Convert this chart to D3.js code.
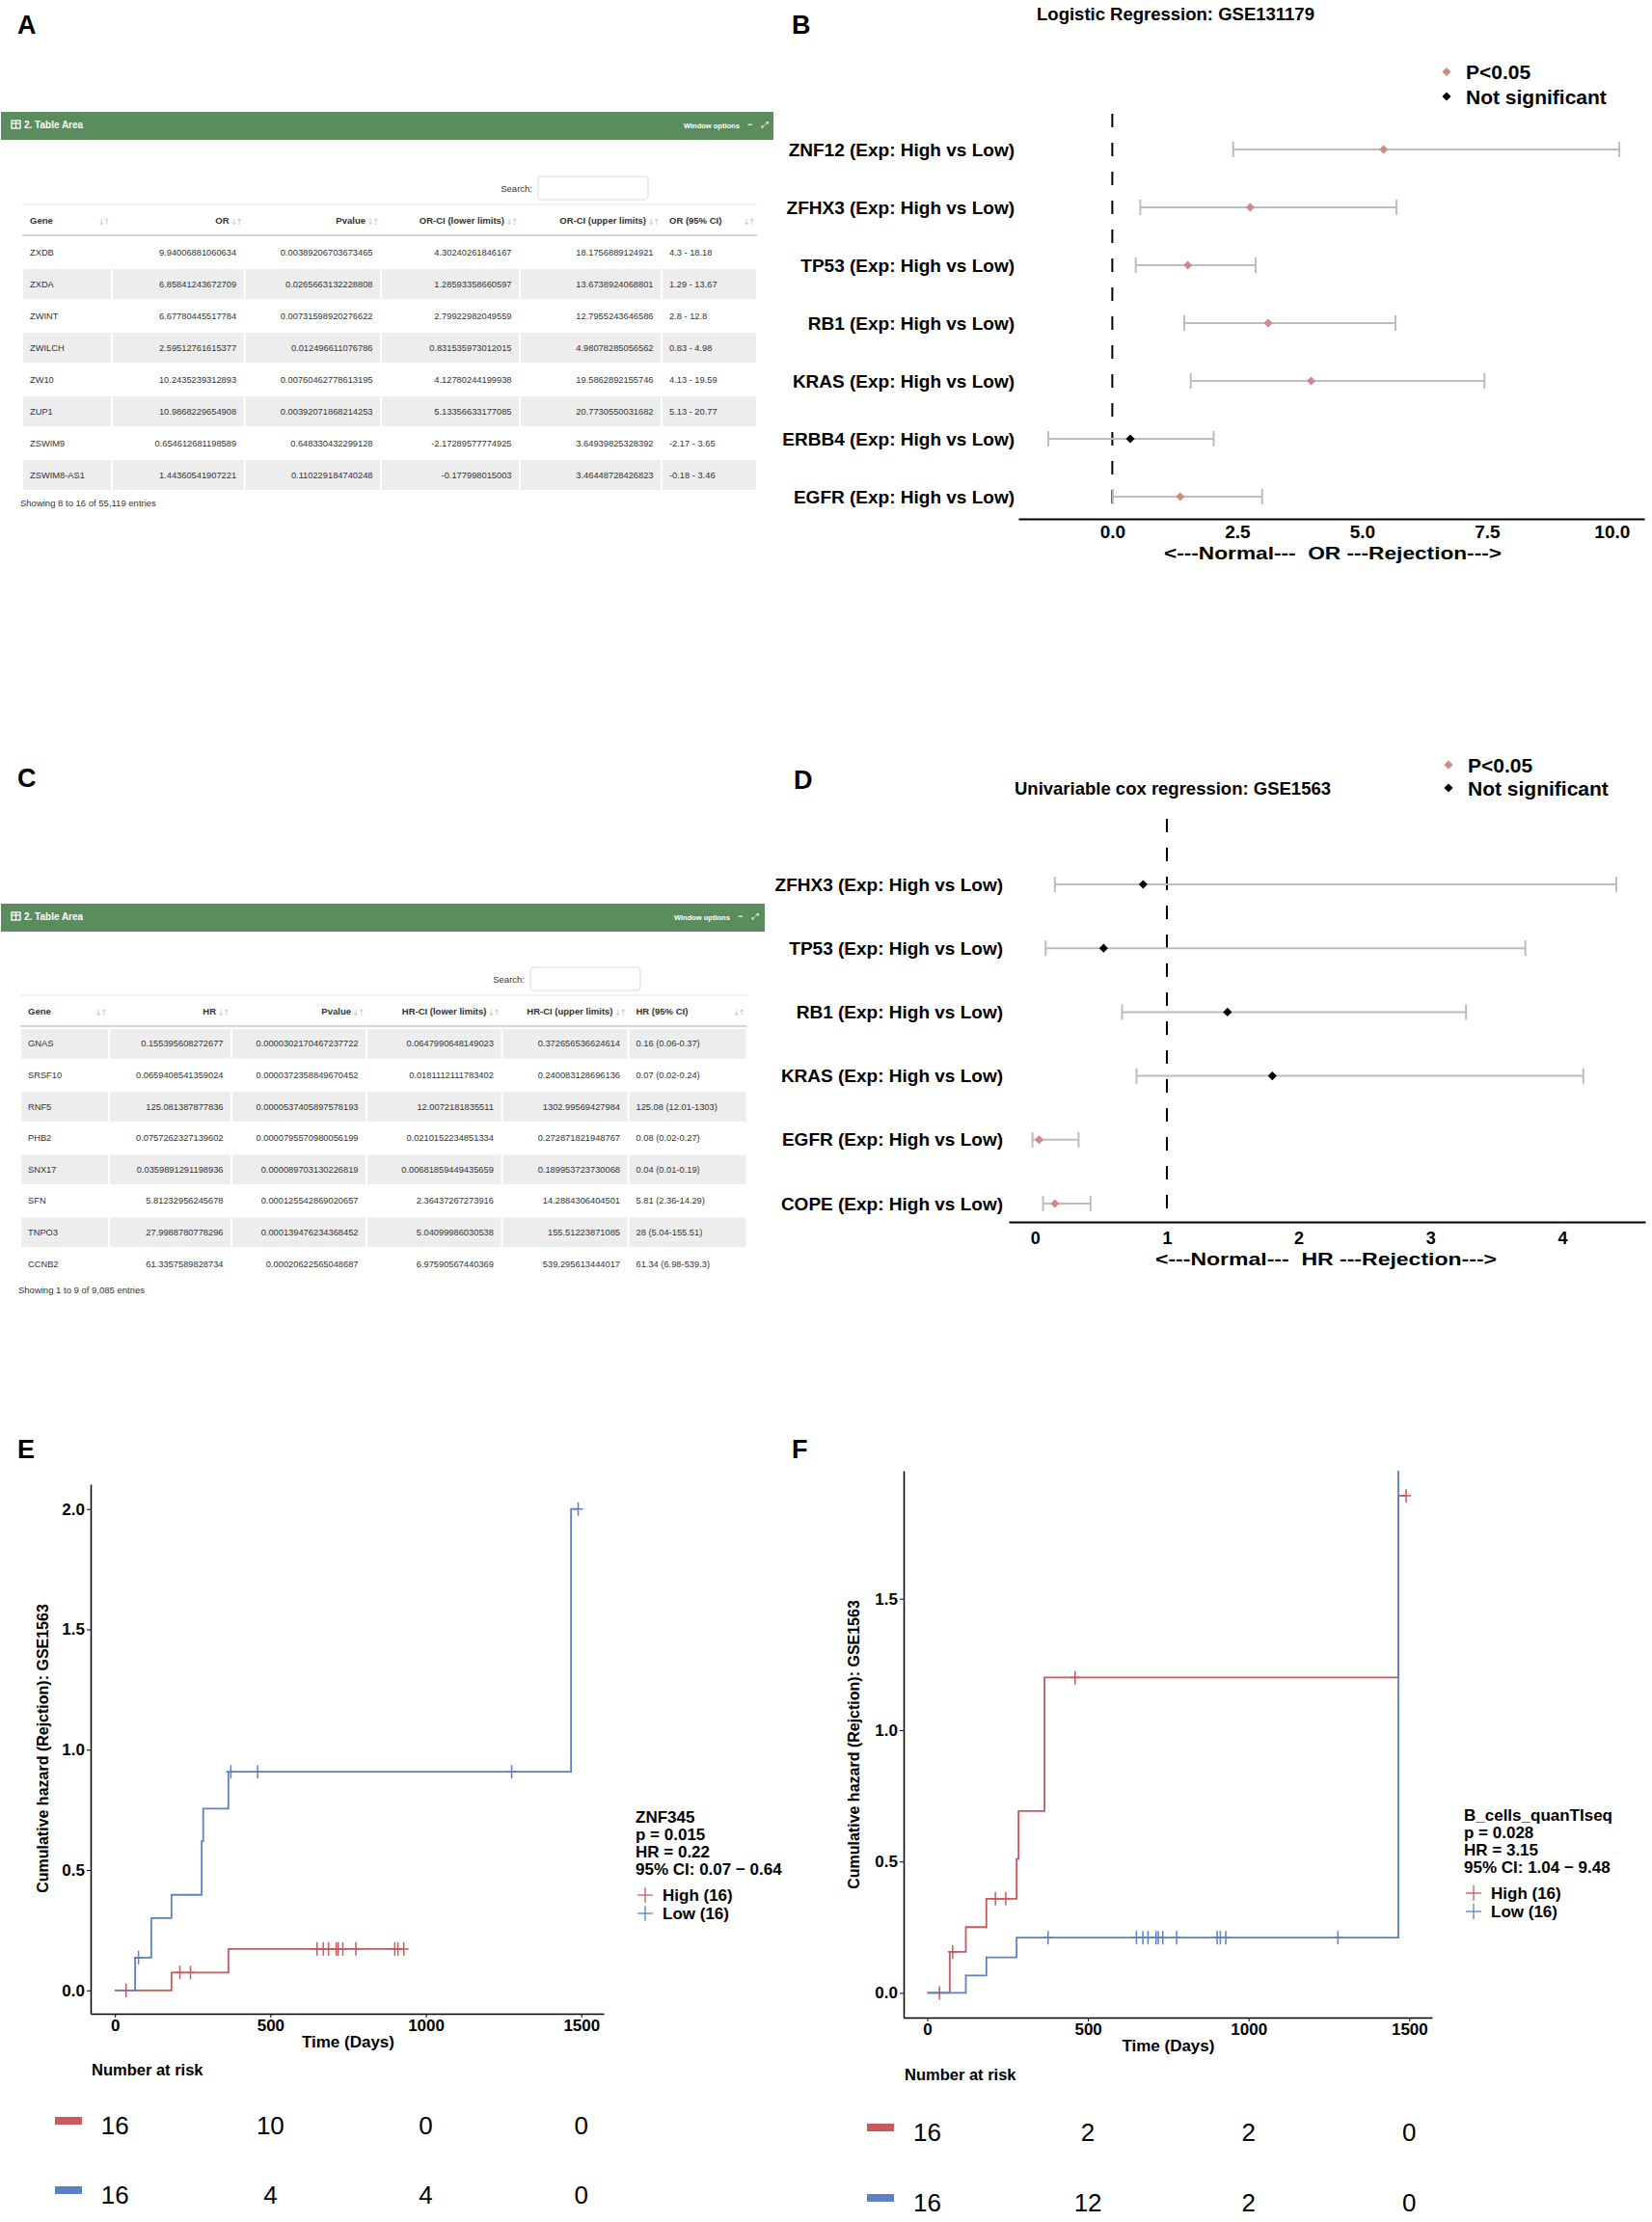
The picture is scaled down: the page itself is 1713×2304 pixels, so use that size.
<!DOCTYPE html>
<html>
<head>
<meta charset="utf-8">
<script src="https://cdn.jsdelivr.net/npm/d3@7"></script>
<style>
  body { margin: 0; background: #fff; }
  svg { display: block; font-family: "Liberation Sans", Arial, sans-serif; }
</style>
</head>
<body>
<script>
// ---------- table A (logistic regression screenshot) ----------
var tableAHead = ["Gene", "OR", "Pvalue", "OR-CI (lower limits)", "OR-CI (upper limits)", "OR (95% CI)"];
var tableAGene = ["ZXDB", "ZXDA", "ZWINT", "ZWILCH", "ZW10", "ZUP1", "ZSWIM9", "ZSWIM8-AS1"];
var tableAOR = ["9.94006881060634", "6.85841243672709", "6.67780445517784", "2.59512761615377",
                "10.2435239312893", "10.9868229654908", "0.654612681198589", "1.44360541907221"];
var tableAP = ["0.00389206703673465", "0.0265663132228808", "0.00731598920276622", "0.012496611076786",
               "0.00760462778613195", "0.00392071868214253", "0.648330432299128", "0.110229184740248"];
var tableALow = ["4.30240261846167", "1.28593358660597", "2.79922982049559", "0.831535973012015",
                 "4.12780244199938", "5.13356633177085", "-2.17289577774925", "-0.177998015003"];
var tableAHigh = ["18.1756889124921", "13.6738924068801", "12.7955243646586", "4.98078285056562",
                  "19.5862892155746", "20.7730550031682", "3.64939825328392", "3.46448728426823"];
var tableACI = ["4.3 - 18.18", "1.29 - 13.67", "2.8 - 12.8", "0.83 - 4.98",
                "4.13 - 19.59", "5.13 - 20.77", "-2.17 - 3.65", "-0.18 - 3.46"];

// ---------- table C (cox regression screenshot) ----------
var tableCHead = ["Gene", "HR", "Pvalue", "HR-CI (lower limits)", "HR-CI (upper limits)", "HR (95% CI)"];
var tableCGene = ["GNAS", "SRSF10", "RNF5", "PHB2", "SNX17", "SFN", "TNPO3", "CCNB2"];
var tableCHR = ["0.155395608272677", "0.0659408541359024", "125.081387877836", "0.0757262327139602",
                "0.0359891291198936", "5.81232956245678", "27.9988780778296", "61.3357589828734"];
var tableCP = ["0.0000302170467237722", "0.0000372358849670452", "0.0000537405897578193", "0.0000795570980056199",
               "0.000089703130226819", "0.000125542869020657", "0.000139476234368452", "0.00020622565048687"];
var tableCLow = ["0.0647990648149023", "0.0181112111783402", "12.0072181835511", "0.0210152234851334",
                 "0.00681859449435659", "2.36437267273916", "5.04099986030538", "6.97590567440369"];
var tableCHigh = ["0.372656536624614", "0.240083128696136", "1302.99569427984", "0.272871821948767",
                  "0.189953723730068", "14.2884306404501", "155.51223871085", "539.295613444017"];
var tableCCI = ["0.16 (0.06-0.37)", "0.07 (0.02-0.24)", "125.08 (12.01-1303)", "0.08 (0.02-0.27)",
                "0.04 (0.01-0.19)", "5.81 (2.36-14.29)", "28 (5.04-155.51)", "61.34 (6.98-539.3)"];

// ---------- forest B ----------
var orGenes = ["ZNF12", "ZFHX3", "TP53", "RB1", "KRAS", "ERBB4", "EGFR"];
var orEst  = [5.43, 2.76, 1.51, 3.12, 3.98, 0.36, 1.36];
var orLow  = [2.42, 0.56, 0.47, 1.44, 1.57, -1.28, 0.01];
var orHigh = [10.15, 5.69, 2.87, 5.67, 7.45, 2.03, 3.00];
var orSig  = [true, true, true, true, true, false, true];
var orTicks = [0, 2.5, 5, 7.5, 10];

// ---------- forest D ----------
var hrGenes = ["ZFHX3", "TP53", "RB1", "KRAS", "EGFR", "COPE"];
var hrEst  = [0.82, 0.52, 1.46, 1.80, 0.03, 0.15];
var hrLow  = [0.15, 0.08, 0.66, 0.77, -0.02, 0.06];
var hrHigh = [4.41, 3.72, 3.27, 4.16, 0.33, 0.42];
var hrSig  = [false, false, false, false, true, true];
var hrTicks = [0, 1, 2, 3, 4];

// ---------- cumulative hazard E ----------
var eHighTimes = [0, 182, 365];
var eHighVals  = [0, 0.074, 0.172];
var eHighEnd = 929;
var eHighCens = [36, 209, 243, 650, 670, 687, 712, 718, 733, 775, 900, 910, 929];
var eLowTimes = [0, 65, 117, 182, 279, 284, 365, 1467];
var eLowVals  = [0, 0.136, 0.30, 0.397, 0.62, 0.755, 0.908, 2.0];
var eLowEnd = 1490;
var eLowCens = [76, 373, 459, 1276, 1490];
var eLegend = ["ZNF345", "p = 0.015", "HR = 0.22", "95% CI: 0.07 \u2212 0.64"];
var eRiskHigh = [16, 10, 0, 0];
var eRiskLow  = [16, 4, 4, 0];

// ---------- cumulative hazard F ----------
var fHighTimes = [0, 70, 120, 184, 278, 284, 365, 1466];
var fHighVals  = [0, 0.156, 0.25, 0.358, 0.509, 0.692, 1.20, 1.892];
var fHighEnd = 1490;
var fHighCens = [38, 79, 212, 244, 460, 1490];
var fLowTimes = [0, 120, 184, 278, 1466];
var fLowVals  = [0, 0.066, 0.135, 0.21, 2.3];
var fLowEnd = 1466;
var fLowCens = [376, 651, 671, 687, 712, 719, 733, 776, 902, 912, 929, 1278];
var fLegend = ["B_cells_quanTIseq", "p = 0.028", "HR = 3.15", "95% CI: 1.04 \u2212 9.48"];
var fRiskHigh = [16, 2, 2, 0];
var fRiskLow  = [16, 12, 2, 0];

var groupNames = ["High (16)", "Low (16)"];
var timeTicks = [0, 500, 1000, 1500];
var hazTicksE = [0, 0.5, 1, 1.5, 2];
var hazTicksF = [0, 0.5, 1, 1.5];

var RED = "#c85a5d", BLUE = "#5c82c1", PINK = "#cf8a86";

var svg = d3.select("body").append("svg")
  .attr("width", 1713).attr("height", 2304)
  .attr("viewBox", "0 0 1713 2304");
svg.append("rect").attr("width", 1713).attr("height", 2304).attr("fill", "#fff");

// small text helper
function txt(g, x, y, s, size, weight, anchor) {
  return g.append("text")
    .attr("x", x).attr("y", y)
    .attr("font-size", size)
    .attr("font-weight", weight || "normal")
    .attr("text-anchor", anchor || "start")
    .attr("dominant-baseline", "central")
    .text(s);
}

// panel letters
[["A", 18, 26], ["B", 821, 26], ["C", 18, 807], ["D", 823, 809], ["E", 18, 1503], ["F", 821, 1503]]
  .forEach(function(p) { txt(svg, p[1], p[2], p[0], 27, "bold"); });

// ---------- screenshot style tables ----------
function drawTable(t) {
  var g = svg.append("g").attr("class", "table");

  // green window bar
  g.append("rect").attr("x", 1).attr("y", t.barY).attr("width", t.barW).attr("height", 29).attr("fill", "#5b8c5e");
  var ic = g.append("g").attr("transform", "translate(12," + (t.barY + 9) + ")")
    .attr("stroke", "#fff").attr("fill", "none").attr("stroke-width", 1.3);
  ic.append("rect").attr("width", 9).attr("height", 8);
  ic.append("line").attr("x1", 0).attr("x2", 9).attr("y1", 3).attr("y2", 3);
  ic.append("line").attr("x1", 4.5).attr("x2", 4.5).attr("y1", 0).attr("y2", 8);
  txt(g, 25, t.barY + 13, "2. Table Area", 10, "bold").attr("fill", "#fff");
  txt(g, t.winX, t.barY + 14, "Window options", 7.5, "bold").attr("fill", "#fff");
  txt(g, t.winX + 66, t.barY + 13, "\u2212", 9, "bold").attr("fill", "#fff");
  txt(g, t.winX + 81, t.barY + 13, "\u2922", 9, "normal").attr("fill", "#fff").attr("font-family", "DejaVu Sans");

  // search box
  txt(g, t.searchX, t.searchY, "Search:", 9.5, "normal", "end").attr("fill", "#333");
  g.append("rect").attr("x", t.searchX + 6).attr("y", t.searchY - 12).attr("width", 114).attr("height", 24)
    .attr("rx", 3).attr("fill", "#fff").attr("stroke", "#dcdcdc");

  var e = t.edges;
  var x0 = e[0], x1 = e[e.length - 1];
  var nRows = t.cols[0].length;

  // zebra cells, white gaps between cells
  for (var r = 0; r < nRows; r++) {
    if (r % 2 !== t.shade) continue;
    for (var c = 0; c < e.length - 1; c++) {
      g.append("rect")
        .attr("x", e[c] + 1).attr("y", t.rowTop + r * t.rowH + 1)
        .attr("width", e[c + 1] - e[c] - 2).attr("height", t.rowH - 2)
        .attr("fill", "#ededed");
    }
  }
  g.append("line").attr("x1", x0).attr("x2", x1).attr("y1", t.top).attr("y2", t.top)
    .attr("stroke", "#e2e2e2").attr("stroke-width", 1);
  g.append("line").attr("x1", x0).attr("x2", x1).attr("y1", t.headBot).attr("y2", t.headBot)
    .attr("stroke", "#d6d6d6").attr("stroke-width", 2);

  // header row
  t.head.forEach(function(h, c) {
    var left = e[c], right = e[c + 1];
    if (c === 0 || c === t.head.length - 1) {
      txt(g, left + 8, t.headY, h, 9.5, "bold").attr("fill", "#333");
    } else {
      txt(g, right - 16, t.headY, h, 9.5, "bold", "end").attr("fill", "#333");
    }
    txt(g, right - 9, t.headY + 2, "\u2193\u2191", 9, "normal", "middle")
      .attr("fill", "#c6c6c6").attr("letter-spacing", -2).attr("font-family", "DejaVu Sans");
  });

  // body rows
  t.cols.forEach(function(col, c) {
    col.forEach(function(v, r) {
      var y = t.rowTop + (r + 0.5) * t.rowH;
      if (c === 0 || c === t.cols.length - 1) {
        txt(g, e[c] + 8, y, v, 9.3, "normal").attr("fill", "#333");
      } else {
        txt(g, e[c + 1] - 8.5, y, v, 9.3, "normal", "end").attr("fill", "#333");
      }
    });
  });

  txt(g, x0 - 2, t.infoY, t.info, 9.5, "normal").attr("fill", "#333");
}

drawTable({
  barY: 116, barW: 801, winX: 709,
  searchX: 552, searchY: 195,
  edges: [23, 116, 253.6, 395, 539, 686, 785],
  top: 212, headY: 228, headBot: 244, rowTop: 245, rowH: 33, shade: 1,
  head: tableAHead,
  cols: [tableAGene, tableAOR, tableAP, tableALow, tableAHigh, tableACI],
  infoY: 521, info: "Showing 8 to 16 of 55,119 entries"
});

drawTable({
  barY: 937, barW: 792, winX: 699,
  searchX: 544, searchY: 1015,
  edges: [21, 113, 240, 380, 520.4, 651.5, 774.5],
  top: 1032, headY: 1048, headBot: 1064, rowTop: 1066, rowH: 32.6, shade: 0,
  head: tableCHead,
  cols: [tableCGene, tableCHR, tableCP, tableCLow, tableCHigh, tableCCI],
  infoY: 1337, info: "Showing 1 to 9 of 9,085 entries"
});

// ---------- forest plots ----------
function forest(cfg) {
  var g = svg.append("g");
  var x = d3.scaleLinear().domain(cfg.xDomain).range(cfg.xRange);
  var y = d3.scalePoint().domain(cfg.genes).range(cfg.yRange);

  var rows = cfg.genes.map(function(gn, i) {
    return { gene: gn, est: cfg.est[i], lo: cfg.lo[i], hi: cfg.hi[i], sig: cfg.sig[i] };
  });

  // reference line
  g.append("line")
    .attr("x1", x(cfg.ref)).attr("x2", x(cfg.ref))
    .attr("y1", cfg.dashTop).attr("y2", cfg.axisY)
    .attr("stroke", "#000").attr("stroke-width", 2).attr("stroke-dasharray", "14,16");

  // error bars
  var eb = g.selectAll(".eb").data(rows).enter().append("g").attr("class", "eb")
    .attr("stroke", "#bdbdbd").attr("stroke-width", 2);
  eb.append("line").attr("x1", function(d) { return x(d.lo); }).attr("x2", function(d) { return x(d.hi); })
    .attr("y1", function(d) { return y(d.gene); }).attr("y2", function(d) { return y(d.gene); });
  eb.append("line").attr("x1", function(d) { return x(d.lo); }).attr("x2", function(d) { return x(d.lo); })
    .attr("y1", function(d) { return y(d.gene) - 8; }).attr("y2", function(d) { return y(d.gene) + 8; });
  eb.append("line").attr("x1", function(d) { return x(d.hi); }).attr("x2", function(d) { return x(d.hi); })
    .attr("y1", function(d) { return y(d.gene) - 8; }).attr("y2", function(d) { return y(d.gene) + 8; });

  // points
  var diamond = d3.symbol().type(d3.symbolSquare).size(42);
  g.selectAll(".pt").data(rows).enter().append("path").attr("class", "pt")
    .attr("d", diamond)
    .attr("transform", function(d) { return "translate(" + x(d.est) + "," + y(d.gene) + ") rotate(45)"; })
    .attr("fill", function(d) { return d.sig ? PINK : "#000"; });

  // row labels
  g.selectAll(".lab").data(rows).enter().append("text").attr("class", "lab")
    .attr("x", cfg.labelX).attr("y", function(d) { return y(d.gene); })
    .attr("text-anchor", "end").attr("dominant-baseline", "central")
    .attr("font-size", 19).attr("font-weight", "bold")
    .text(function(d) { return d.gene + " (Exp: High vs Low)"; });

  // x axis
  var ax = g.append("g").attr("transform", "translate(0," + cfg.axisY + ")")
    .call(d3.axisBottom(x).tickValues(cfg.ticks).tickFormat(cfg.fmt).tickSize(0).tickSizeOuter(0).tickPadding(cfg.pad));
  ax.select(".domain").attr("stroke", "#000").attr("stroke-width", 2);
  ax.selectAll("text").attr("font-size", cfg.tickSize).attr("font-weight", "bold")
    .attr("font-family", "Liberation Sans, Arial, sans-serif").attr("fill", "#000");

  txt(g, cfg.xlabX, cfg.xlabY, cfg.xlab, 19, "bold", "middle")
    .style("white-space", "pre").attr("textLength", cfg.xlabLen).attr("lengthAdjust", "spacingAndGlyphs");
  txt(g, cfg.titleX, cfg.titleY, cfg.title, 18.5, "bold", "middle");

  // legend
  [["P<0.05", PINK], ["Not significant", "#000"]].forEach(function(l, i) {
    var ly = cfg.legY[i];
    g.append("path").attr("d", diamond)
      .attr("transform", "translate(" + cfg.legX + "," + ly + ") rotate(45)").attr("fill", l[1]);
    txt(g, cfg.legX + 20, ly, l[0], 21, "bold");
  });
}

forest({
  genes: orGenes, est: orEst, lo: orLow, hi: orHigh, sig: orSig,
  xDomain: [-1.88, 10.65], xRange: [1056, 1705], yRange: [155, 515],
  ref: 0, dashTop: 118, axisY: 538, ticks: orTicks, fmt: d3.format(".1f"), pad: 7, tickSize: 19,
  labelX: 1052,
  xlab: "<---Normal---  OR ---Rejection--->", xlabX: 1382, xlabY: 573, xlabLen: 350,
  title: "Logistic Regression: GSE131179", titleX: 1219, titleY: 14,
  legX: 1500, legY: [74.5, 100]
});

forest({
  genes: hrGenes, est: hrEst, lo: hrLow, hi: hrHigh, sig: hrSig,
  xDomain: [-0.2, 4.63], xRange: [1046, 1706], yRange: [917, 1248],
  ref: 1, dashTop: 849, axisY: 1267, ticks: hrTicks, fmt: d3.format("d"), pad: 10, tickSize: 18,
  labelX: 1040,
  xlab: "<---Normal---  HR ---Rejection--->", xlabX: 1375, xlabY: 1305, xlabLen: 354,
  title: "Univariable cox regression: GSE1563", titleX: 1216, titleY: 817,
  legX: 1502, legY: [793, 817]
});

// ---------- cumulative hazard plots ----------
function hazard(cfg) {
  var g = svg.append("g");
  var x = d3.scaleLinear().domain(cfg.xDomain).range([cfg.left, cfg.right]);
  var y = d3.scaleLinear().domain(cfg.yDomain).range([cfg.bottom, cfg.top]);

  var clipId = "clip" + cfg.id;
  svg.append("clipPath").attr("id", clipId).append("rect")
    .attr("x", cfg.left).attr("y", cfg.top).attr("width", cfg.right - cfg.left).attr("height", cfg.bottom - cfg.top);
  var plot = g.append("g").attr("clip-path", "url(#" + clipId + ")");

  var line = d3.line().curve(d3.curveStepAfter)
    .x(function(d) { return x(d[0]); }).y(function(d) { return y(d[1]); });

  cfg.groups.forEach(function(s) {
    var pts = s.times.map(function(t, i) { return [t, s.vals[i]]; });
    pts.push([s.end, s.vals[s.vals.length - 1]]);
    plot.append("path").datum(pts).attr("d", line)
      .attr("fill", "none").attr("stroke", s.color).attr("stroke-width", 1.8);
    // censor marks
    s.cens.forEach(function(t) {
      var v = s.vals[d3.bisectRight(s.times, t) - 1];
      plot.append("line").attr("x1", x(t)).attr("x2", x(t)).attr("y1", y(v) - 7).attr("y2", y(v) + 7)
        .attr("stroke", s.color).attr("stroke-width", 1.5);
      plot.append("line").attr("x1", x(t) - 5).attr("x2", x(t) + 5).attr("y1", y(v)).attr("y2", y(v))
        .attr("stroke", s.color).attr("stroke-width", 1.5);
    });
  });

  // axes
  var ax = g.append("g").attr("transform", "translate(0," + cfg.bottom + ")")
    .call(d3.axisBottom(x).tickValues(timeTicks).tickFormat(d3.format("d")).tickSize(4).tickSizeOuter(0).tickPadding(2));
  var ay = g.append("g").attr("transform", "translate(" + cfg.left + ",0)")
    .call(d3.axisLeft(y).tickValues(cfg.yTicks).tickFormat(d3.format(".1f")).tickSize(4).tickSizeOuter(0).tickPadding(2));
  [ax, ay].forEach(function(a) {
    a.select(".domain").attr("stroke", "#000").attr("stroke-width", 1.5);
    a.selectAll(".tick line").attr("stroke", "#000");
    a.selectAll("text").attr("font-size", 17).attr("font-weight", "bold")
      .attr("font-family", "Liberation Sans, Arial, sans-serif").attr("fill", "#000");
  });

  txt(g, (x(0) + x(1500)) / 2, cfg.bottom + 29, "Time (Days)", 17, "bold", "middle");
  txt(g, 0, 0, "Cumulative hazard (Rejction): GSE1563", 16, "bold", "middle")
    .attr("transform", "translate(" + cfg.ylabX + "," + cfg.ylabY + ") rotate(-90)")
    .attr("x", null).attr("y", null);

  // legend
  cfg.legend.forEach(function(s, i) {
    txt(g, cfg.legX, cfg.legY + i * 18, s, 17, "bold");
  });
  cfg.groups.forEach(function(s, i) {
    var ly = cfg.legY + 81 + i * 19;
    g.append("line").attr("x1", cfg.legX + 2).attr("x2", cfg.legX + 18).attr("y1", ly).attr("y2", ly)
      .attr("stroke", s.color).attr("stroke-width", 1.3);
    g.append("line").attr("x1", cfg.legX + 10).attr("x2", cfg.legX + 10).attr("y1", ly - 8).attr("y2", ly + 8)
      .attr("stroke", s.color).attr("stroke-width", 1.3);
    txt(g, cfg.legX + 28, ly, groupNames[i], 17, "bold");
  });

  // number at risk
  txt(g, cfg.left + 1, cfg.riskTitleY, "Number at risk", 16.5, "bold");
  cfg.groups.forEach(function(s, i) {
    var ry = cfg.riskY[i];
    g.append("rect").attr("x", cfg.swatchX).attr("y", ry - 9).attr("width", 28).attr("height", 8).attr("fill", s.color);
    s.risk.forEach(function(n, k) {
      txt(g, x(timeTicks[k]), ry, n, 26, "normal", "middle");
    });
  });
}

hazard({
  id: "E", left: 94, right: 626, top: 1539, bottom: 2088,
  xDomain: [-78, 1572], yDomain: [-0.097, 2.103], yTicks: hazTicksE,
  groups: [
    { times: eHighTimes, vals: eHighVals, end: eHighEnd, cens: eHighCens, color: RED, risk: eRiskHigh },
    { times: eLowTimes, vals: eLowVals, end: eLowEnd, cens: eLowCens, color: BLUE, risk: eRiskLow }
  ],
  ylabX: 44, ylabY: 1813,
  legend: eLegend, legX: 659, legY: 1884,
  riskTitleY: 2146, riskY: [2204, 2276], swatchX: 57
});

hazard({
  id: "F", left: 937, right: 1485, top: 1525, bottom: 2092,
  xDomain: [-73.5, 1571], yDomain: [-0.094, 1.987], yTicks: hazTicksF,
  groups: [
    { times: fHighTimes, vals: fHighVals, end: fHighEnd, cens: fHighCens, color: RED, risk: fRiskHigh },
    { times: fLowTimes, vals: fLowVals, end: fLowEnd, cens: fLowCens, color: BLUE, risk: fRiskLow }
  ],
  ylabX: 885, ylabY: 1809,
  legend: fLegend, legX: 1518, legY: 1882,
  riskTitleY: 2151, riskY: [2211, 2284], swatchX: 899
});
</script>
</body>
</html>
